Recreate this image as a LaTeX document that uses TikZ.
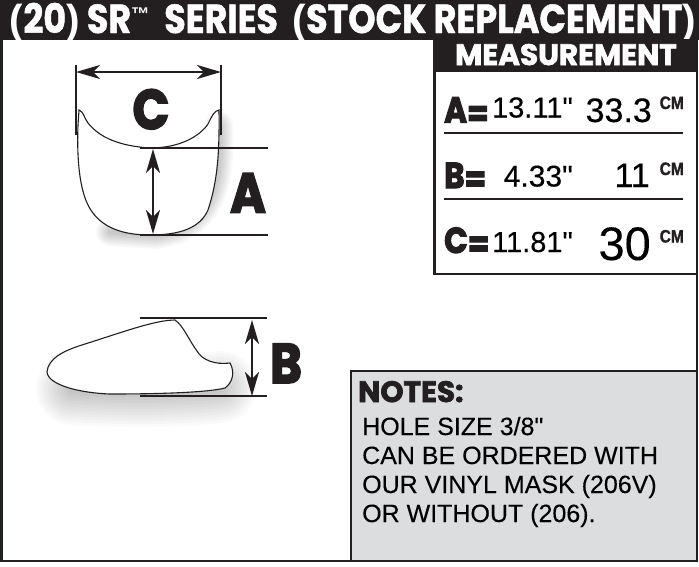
\documentclass[tikz,border=0pt]{standalone}
\usepackage{fontspec}
\usepackage{graphicx}
\setmainfont{Liberation Sans}
\newfontfamily\plain[FakeBold=0.25]{Liberation Sans}
\newfontfamily\plainbold{Liberation Sans Bold}
\newfontfamily\cmfont[FakeBold=1.2,FakeStretch=0.86]{Liberation Sans Bold}
\newfontfamily\blk[FakeBold=3,FakeStretch=0.86]{Poppins Bold}
\newfontfamily\blkw[FakeBold=2.2,FakeStretch=1.0]{Poppins Bold}
\newfontfamily\hdr[FakeBold=1.2,FakeStretch=0.86]{Poppins Bold}
\usetikzlibrary{arrows.meta}
\definecolor{ink}{HTML}{231F20}
\definecolor{notegray}{HTML}{DCDDDF}
\newcommand{\loweq}{\raisebox{-3.5pt}{=}}
\tikzset{
  thickrule/.style={draw=ink,line width=2.2pt},
  outline/.style={draw=ink,line width=1.1pt,fill=white},
  dimarrow/.style={draw=ink,line width=2.4pt,{Stealth[length=24pt,width=14pt,inset=7pt]}-{Stealth[length=24pt,width=14pt,inset=7pt]}},
  bigletter/.style={font=\blk\fontsize{56}{56}\selectfont,text=ink,inner sep=0pt,anchor=base},
  eqletter/.style={font=\blk\fontsize{36}{36}\selectfont,text=ink,inner sep=0pt,anchor=base west},
  val/.style={text=black,inner sep=0pt,anchor=base east},
  cmunit/.style={font=\cmfont\fontsize{18}{18}\selectfont,text=ink,inner sep=0pt,anchor=base east},
  noteline/.style={font=\plain\fontsize{25}{25}\selectfont,text=black,inner sep=0pt,anchor=base west},
}
\begin{document}
\begin{tikzpicture}[x=1pt,y=-1pt]
\useasboundingbox (0,0) rectangle (699,566);
\fill[white] (0,0) rectangle (699,566);
% page frame
\draw[ink,line width=2.5pt] (1.5,40) -- (1.5,561);
\draw[ink,line width=2.5pt] (697,40) -- (697,562);
\draw[ink,line width=2.5pt] (0,561) -- (351,561);
% header
\fill[ink] (0,0) rectangle (699,40);
\node[inner sep=0pt,text=white,anchor=base] (title) at (353,33)
  {\resizebox{686pt}{!}{\hdr\fontsize{33}{33}\selectfont{\plainbold (}20{\plainbold )} SR\raisebox{10pt}{\plainbold\fontsize{15}{15}\selectfont ™}\ \ SERIES\ \ {\plainbold (}STOCK REPLACEMENT{\plainbold )}}};
% measurement box
\draw[ink,line width=2.5pt,fill=white] (434.5,40) rectangle (697,274);
\fill[ink] (433.3,40) rectangle (698,72);
\node[font=\blkw\fontsize{29.5}{29.5}\selectfont,text=white,inner sep=0pt,anchor=base] (mtitle) at (566,65) {MEASUREMENT};
\node[eqletter] (la) at (444,122.5) {A\loweq};
\node[val,font=\plain\fontsize{29}{29}\selectfont] (a1) at (573,117.5) {13.11"};
\node[val,font=\plain\fontsize{34}{34}\selectfont] (a2) at (652,122) {33.3};
\node[cmunit] (a3) at (684,109) {CM};
\draw[thickrule] (444,133) -- (683,133);
\node[eqletter] (lb) at (444,188) {B\loweq};
\node[val,font=\plain\fontsize{30}{30}\selectfont] (b1) at (573,186.5) {4.33"};
\node[val,font=\plain\fontsize{34}{34}\selectfont] (b2) at (650,187) {11};
\node[cmunit] (b3) at (684,175) {CM};
\draw[thickrule] (444,199) -- (683,199);
\node[eqletter] (lc) at (444,253) {C\loweq};
\node[val,font=\plain\fontsize{29}{29}\selectfont] (c1) at (573,252) {11.81"};
\node[val,font=\plain\fontsize{47}{47}\selectfont] (c2) at (651,260) {30};
\node[cmunit] (c3) at (684,242.5) {CM};
% notes box
\draw[ink,line width=2.5pt,fill=notegray] (351,371) rectangle (697,561);
\node[font=\blkw\fontsize{29.5}{29.5}\selectfont,text=ink,inner sep=0pt,anchor=base west] (nt) at (358,402) {NOTES:};
\node[noteline] (n1) at (362,435) {HOLE SIZE 3/8"};
\node[noteline] (n2) at (362,464) {CAN BE ORDERED WITH};
\node[noteline] (n3) at (362,493) {OUR VINYL MASK (206V)};
\node[noteline] (n4) at (362,522) {OR WITHOUT (206).};
% top view shadow
\foreach \w in {28,25,22,19,16,13,10,7,4}{
  \draw[black,opacity=0.022,line width=\w pt,line cap=round,line join=round]
    (219,125) .. controls (221,170) and (218,228) .. (155,235) -- (110,232);
}
% top view cowl
\path[outline] (79,110) .. controls (84,112) and (84,118) .. (88,123)
  .. controls (100,138) and (120,146) .. (150,148)
  .. controls (180,148) and (200,136) .. (208,124)
  .. controls (212,116) and (214,111) .. (219,110)
  .. controls (219.5,150) and (218,180) .. (208,210)
  .. controls (200,228) and (180,235) .. (150,235)
  .. controls (118,235) and (98,225) .. (88,205)
  .. controls (78,185) and (77,150) .. (78,125) -- cycle;
\draw[thickrule] (76,65) -- (76,135);
\draw[thickrule] (221,65) -- (221,135);
\coordinate (cl) at (76,72);
\coordinate (cr) at (221,72);
\draw[dimarrow] (cl) -- (cr);
\node[bigletter] (cletter) at (151,129) {C};
\draw[thickrule] (140,148) -- (268,148);
\draw[thickrule] (140,235) -- (268,235);
\coordinate (at) at (153,149);
\coordinate (ab) at (153,234);
\draw[dimarrow] (at) -- (ab);
\node[bigletter] (aletter) at (248,212.5) {A};
% side view shadow
\foreach \w in {72,66,60,54,48,42,36,30,24,18,12,6}{
  \draw[black,opacity=0.02,line width=\w pt,line cap=round]
    (72,389) .. controls (120,392) and (180,392) .. (220,387);
}
\path[outline] (47,372) .. controls (48,358) and (65,350) .. (85,344)
  .. controls (120,333) and (155,320) .. (175,320)
  .. controls (183,325) and (190,342) .. (197,351)
  .. controls (202,360) and (215,365) .. (230,363)
  .. controls (235,372) and (233,382) .. (225,388)
  .. controls (205,393) and (150,394) .. (110,394)
  .. controls (80,393) and (48,385) .. (47,372) -- cycle;
\draw[thickrule] (140,318) -- (267,318);
\draw[thickrule] (140,396) -- (267,396);
\coordinate (bt) at (252,320);
\coordinate (bb) at (252,396);
\draw[dimarrow] (bt) -- (bb);
\node[bigletter] (bletter) at (286,383) {B};
\end{tikzpicture}
\end{document}
